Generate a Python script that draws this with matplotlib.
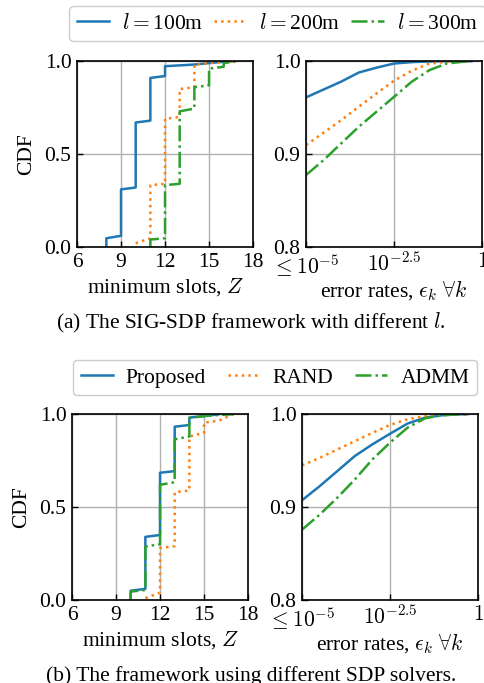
import numpy as np
import matplotlib
matplotlib.use("Agg")
import matplotlib.pyplot as plt

plt.rcParams['font.family'] = ['Liberation Serif', 'DejaVu Serif']
plt.rcParams['mathtext.fontset'] = 'cm'
plt.rcParams['font.size'] = 15.5

colors = ['#1f77b4', '#ff7f0e', '#2ca02c']
styles = ['-', ':', '-.']

# ---- (a) SIG-SDP with different l ----
labels_a = [r'$l{=}$100m', r'$l{=}$200m', r'$l{=}$300m']
slots_a_x = [
    [8, 8, 9, 9, 10, 10, 11, 11, 12, 12, 14, 15, 16, 16.5],
    [10, 11, 11, 12, 12, 13, 13, 14, 14, 15, 16, 17],
    [11, 11, 12, 12, 13, 13, 14, 14, 15, 15, 16, 16, 17],
]
slots_a_y = [
    [0, 0.047, 0.06, 0.31, 0.32, 0.67, 0.68, 0.91, 0.92, 0.973, 0.982, 0.99, 0.997, 1.0],
    [0.02, 0.047, 0.333, 0.34, 0.69, 0.70, 0.85, 0.86, 0.982, 0.99, 0.996, 1.0],
    [0, 0.04, 0.047, 0.333, 0.34, 0.73, 0.745, 0.86, 0.87, 0.96, 0.97, 0.99, 1.0],
]
err_exp = [-5, -4.5, -4, -3.5, -3, -2.5, -2, -1.5, -1, -0.5, -0.3]
err_a_y = [
    [0.961, 0.9695, 0.978, 0.9878, 0.993, 0.9975, 0.999, 0.9997, 1.0, 1.0, 1.0],
    [0.9097, 0.923, 0.9366, 0.951, 0.9652, 0.979, 0.9896, 0.9975, 0.9993, 1.0, 1.0],
    [0.8774, 0.8935, 0.9115, 0.9294, 0.9455, 0.9616, 0.9778, 0.9903, 0.9975, 0.9996, 1.0],
]

# ---- (b) different SDP solvers ----
labels_b = ['Proposed', 'RAND', 'ADMM']
slots_b_x = [
    [10, 10, 11, 11, 12, 12, 13, 13, 14, 14, 15, 16],
    [11, 12, 12, 13, 13, 14, 14, 15, 15, 16, 17],
    [10, 10, 11, 11, 12, 12, 13, 13, 14, 14, 15, 16, 17],
]
slots_b_y = [
    [0, 0.05, 0.06, 0.34, 0.35, 0.685, 0.694, 0.933, 0.942, 0.982, 0.99, 1.0],
    [0.01, 0.04, 0.28, 0.29, 0.58, 0.59, 0.88, 0.90, 0.955, 0.965, 1.0],
    [0, 0.045, 0.054, 0.288, 0.30, 0.62, 0.634, 0.865, 0.88, 0.98, 0.99, 0.996, 1.0],
]
err_b_y = [
    [0.9074, 0.9225, 0.9387, 0.955, 0.9676, 0.979, 0.99, 0.9964, 0.999, 1.0, 1.0],
    [0.9449, 0.953, 0.962, 0.971, 0.980, 0.9885, 0.9946, 0.998, 1.0, 1.0, 1.0],
    [0.8757, 0.8919, 0.91, 0.9297, 0.9514, 0.9694, 0.9856, 0.9957, 0.999, 1.0, 1.0],
]

slot_ticks = [6, 9, 12, 15, 18]
cdf_ticks = [0.0, 0.5, 1.0]
err_ticks = [1e-5, 10 ** -2.5, 1]
err_ticklabels = [r'$\leq 10^{-5}$', r'$10^{-2.5}$', r'$1$']
err_yticks = [0.8, 0.9, 1.0]

fig = plt.figure(figsize=(4.85, 6.83), dpi=100)

def style_axes(ax):
    ax.tick_params(direction='in', length=4, width=1, pad=4)
    for s in ax.spines.values():
        s.set_linewidth(1.2)
    ax.grid(True, color='#b0b0b0', linewidth=1)
    ax.set_axisbelow(True)

def draw_row(y0, lx, rx, sx, sy, ey, labels, caption, cap_y, leg_pt, colsp):
    axl = fig.add_axes([lx, y0, 0.3629, 0.272])
    axr = fig.add_axes([rx, y0, 0.3629, 0.272])
    handles = []
    for i in range(3):
        h, = axl.plot(sx[i], sy[i], color=colors[i], linestyle=styles[i], lw=1.8,
                      label=labels[i])
        handles.append(h)
        axr.plot(10 ** np.array(err_exp), ey[i], color=colors[i], linestyle=styles[i], lw=1.8)
    axl.set_xlim(6, 18)
    axl.set_ylim(0, 1)
    axl.set_xticks(slot_ticks)
    axl.set_yticks(cdf_ticks)
    axl.set_xlabel(r'minimum slots, $Z$', labelpad=3)
    axl.set_ylabel('CDF', labelpad=6)
    style_axes(axl)
    axr.set_xscale('log')
    axr.set_xlim(1e-5, 1)
    axr.set_ylim(0.8, 1.0)
    axr.set_xticks(err_ticks)
    axr.set_xticklabels(err_ticklabels)
    axr.xaxis.set_minor_locator(matplotlib.ticker.NullLocator())
    axr.set_yticks(err_yticks)
    axr.set_xlabel(r'error rates, $\epsilon_k\ \forall k$', labelpad=0)
    style_axes(axr)
    fig.legend(handles=handles, loc='center', ncol=3, bbox_to_anchor=leg_pt,
               handlelength=1.5, handletextpad=0.6, columnspacing=colsp,
               fancybox=True, framealpha=1, edgecolor='#cccccc', fontsize=15.5,
               borderpad=0.35)
    fig.text(0.517, cap_y, caption, ha='center', va='baseline', fontsize=15.5)

draw_row(0.6384, 0.1588, 0.6309, slots_a_x, slots_a_y, err_a_y, labels_a,
         r'(a) The SIG-SDP framework with different $l$.', 1 - 328 / 683,
         (0.572, 0.965), 0.5)
draw_row(0.1215, 0.1485, 0.6227, slots_b_x, slots_b_y, err_b_y, labels_b,
         '(b) The framework using different SDP solvers.', 1 - 681 / 683,
         (0.567, 0.4473), 1.0)

fig.savefig('out.png', dpi=100)
